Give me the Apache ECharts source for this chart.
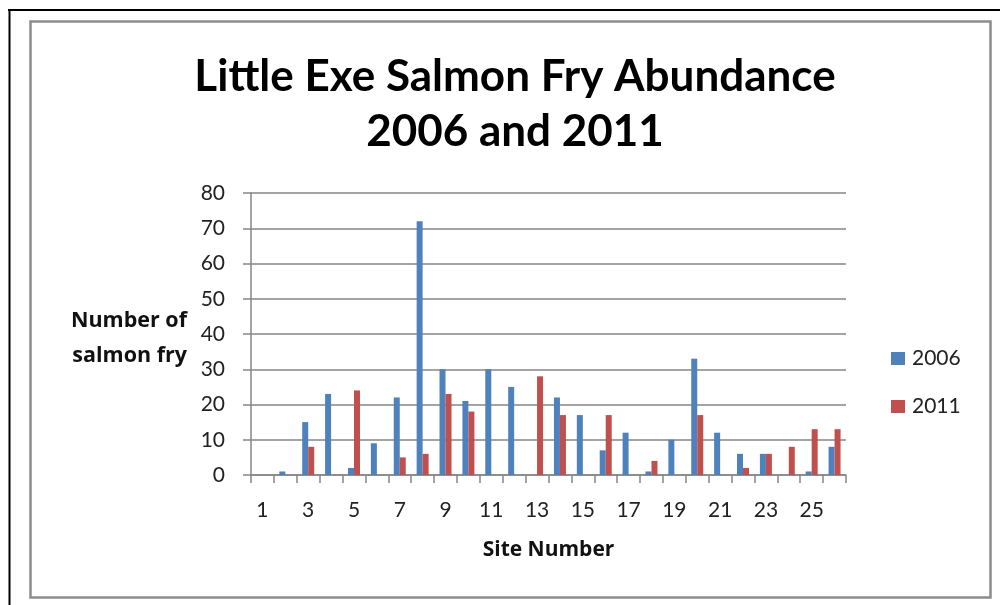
<!DOCTYPE html>
<html>
<head>
<meta charset="utf-8">
<script src="https://cdn.jsdelivr.net/npm/echarts@6/dist/echarts.min.js"></script>
<style>
html,body{margin:0;padding:0;background:#fff;}
#chart{width:1000px;height:605px;}
</style>
</head>
<body>
<div id="chart"></div>
<script>
const sites = ['1','2','3','4','5','6','7','8','9','10','11','12','13','14','15','16','17','18','19','20','21','22','23','24','25','26'];
const fry2006 = [0,1,15,23,2,9,22,72,30,21,30,25,0,22,17,7,12,1,10,33,12,6,6,0,1,8];
const fry2011 = [0,0,8,0,24,0,5,6,23,18,0,0,28,17,0,17,0,4,0,17,0,2,6,8,13,13];
const yTicks = {min:0, max:80, interval:10};

const FONT = 'Lato, "Open Sans", sans-serif';
const NAMEFONT = '"Open Sans", Lato, sans-serif';
const chart = echarts.init(document.getElementById('chart'), null, {renderer:'canvas'});
chart.setOption({
  backgroundColor:'#fff',
  animation:false,
  title:{
    text:'Little Exe Salmon Fry Abundance\n2006 and 2011',
    left:510, top:44, textAlign:'center',
    textStyle:{fontFamily:FONT, fontWeight:'bold', fontSize:44, lineHeight:55, color:'#000'}
  },
  legend:{
    orient:'vertical', left:886, top:343,
    itemWidth:14, itemHeight:13, itemGap:27,
    icon:'rect',
    textStyle:{fontFamily:FONT, fontSize:21, color:'#222', padding:[0,0,0,2]},
    data:['2006','2011']
  },
  grid:{left:251, right:154, top:193, bottom:130, containLabel:false},
  xAxis:{
    type:'category', data:sites,
    name:'Site Number', nameLocation:'middle', nameGap:65,
    nameTextStyle:{fontFamily:NAMEFONT, fontWeight:'bold', fontSize:21, color:'#111'},
    axisLine:{show:true, lineStyle:{color:'#868686', width:1.5}},
    axisTick:{show:true, interval:0, length:8, alignWithLabel:false, lineStyle:{color:'#868686', width:1.5}},
    axisLabel:{interval:1, margin:25, fontFamily:FONT, fontSize:21, color:'#222'},
    splitLine:{show:false}
  },
  yAxis:{
    type:'value', min:yTicks.min, max:yTicks.max, interval:yTicks.interval,
    name:'{g| }\n{t|Number of}\n{t|salmon fry}', nameLocation:'middle', nameRotate:0, nameGap:64,
    nameTextStyle:{fontFamily:NAMEFONT, fontWeight:'bold', fontSize:21.5, color:'#111', align:'right',
      rich:{
        g:{fontSize:4, lineHeight:8},
        t:{fontFamily:NAMEFONT, fontWeight:'bold', fontSize:21.5, lineHeight:35, color:'#111'}
      }},
    axisLine:{show:true, lineStyle:{color:'#868686', width:1.5}},
    axisTick:{show:true, length:8, lineStyle:{color:'#868686', width:1.5}},
    axisLabel:{margin:26, fontFamily:FONT, fontSize:21, color:'#222'},
    splitLine:{show:true, lineStyle:{color:'#868686', width:1.5}}
  },
  series:[
    {name:'2006', type:'bar', data:fry2006, barWidth:6, barGap:'0%', itemStyle:{color:'#4F81BD'}},
    {name:'2011', type:'bar', data:fry2011, barWidth:6, barGap:'0%', itemStyle:{color:'#C0504D'}}
  ],
  graphic:[
    {type:'line', shape:{x1:8, y1:10, x2:1000, y2:10}, style:{stroke:'#000', lineWidth:2}, silent:true},
    {type:'line', shape:{x1:9.5, y1:9, x2:9.5, y2:605}, style:{stroke:'#000', lineWidth:2}, silent:true},
    {type:'rect', shape:{x:30.5, y:21.5, width:960, height:576}, style:{stroke:'#8c8c8c', lineWidth:2.5, fill:'none'}, silent:true}
  ]
});
</script>
</body>
</html>
